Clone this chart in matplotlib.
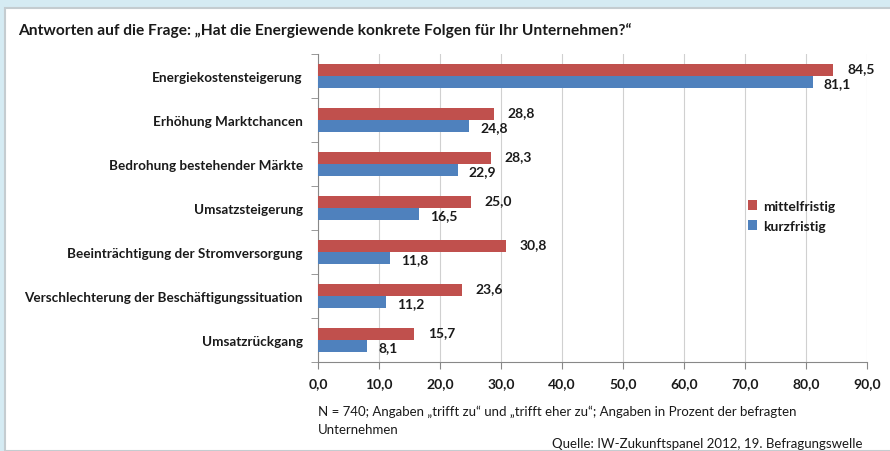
import numpy as np
import matplotlib.pyplot as plt
from matplotlib.patches import Rectangle

categories = ['Energiekostensteigerung', 'Erhöhung Marktchancen', 'Bedrohung bestehender Märkte',
              'Umsatzsteigerung', 'Beeinträchtigung der Stromversorgung',
              'Verschlechterung der Beschäftigungssituation', 'Umsatzrückgang']
mittelfristig = [84.5, 28.8, 28.3, 25.0, 30.8, 23.6, 15.7]
kurzfristig = [81.1, 24.8, 22.9, 16.5, 11.8, 11.2, 8.1]
xticks = [0, 10, 20, 30, 40, 50, 60, 70, 80, 90]

red = '#c0504d'
blue = '#4f81bd'
txt = '#1a1a1a'
plt.rcParams['font.family'] = ['Lato', 'DejaVu Sans']

fig = plt.figure(figsize=(8.9, 4.52), dpi=100)
fig.patch.set_facecolor('#d5ebf3')
# white panel with grey edge
fig.patches.append(Rectangle((5 / 890, 0), 1, 1 - 9 / 452, transform=fig.transFigure,
                             facecolor='white', edgecolor='#c4ccd0', linewidth=1.5, zorder=-10))

ax = fig.add_axes([318 / 890, 1 - 363 / 452, 549 / 890, 308 / 452])
ax.set_facecolor('none')
y = np.arange(len(categories))
h = 0.27
ax.barh(y - h / 2, mittelfristig, height=h, color=red, label='mittelfristig', zorder=3)
ax.barh(y + h / 2, kurzfristig, height=h, color=blue, label='kurzfristig', zorder=3)

for i in range(len(categories)):
    ax.annotate(f'{mittelfristig[i]:.1f}'.replace('.', ','), (mittelfristig[i], y[i] - h / 2 - 0.05),
                xytext=(10, 0), textcoords='offset points', va='center', ha='left',
                fontsize=10, fontweight='bold', color=txt)
    ax.annotate(f'{kurzfristig[i]:.1f}'.replace('.', ','), (kurzfristig[i], y[i] + h / 2 + 0.02),
                xytext=(8, 0), textcoords='offset points', va='center', ha='left',
                fontsize=10, fontweight='bold', color=txt)

ax.set_xlim(0, 90)
ax.set_ylim(len(categories) - 0.5, -0.5)
ax.set_xticks(xticks)
ax.set_xticklabels([f'{v:.1f}'.replace('.', ',') for v in xticks], fontsize=10,
                   fontweight='bold', color=txt)
ax.set_yticks(y)
ax.set_yticklabels(categories, fontsize=9.7, fontweight='bold', color=txt)
ax.set_yticks(np.arange(len(categories) + 1) - 0.5, minor=True)
ax.tick_params(axis='y', which='major', length=0, pad=11)
ax.tick_params(axis='y', which='minor', length=5, color='#888888', direction='out')
ax.tick_params(axis='x', length=5, color='#888888', direction='out', pad=6)
ax.grid(axis='x', color='#d0d0d0', linewidth=0.8, zorder=0)
for s in ['top', 'right']:
    ax.spines[s].set_visible(False)
for s in ['left', 'bottom']:
    ax.spines[s].set_color('#888888')

handles, labels = ax.get_legend_handles_labels()
leg = ax.legend(handles, labels, loc='center left', bbox_to_anchor=(0.76, 0.475), frameon=False,
                prop={'size': 10, 'weight': 'bold'}, handlelength=0.7, handleheight=0.7,
                handletextpad=0.4, labelspacing=0.6)
for t in leg.get_texts():
    t.set_color(txt)

fig.text(18 / 890, 1 - 31 / 452, 'Antworten auf die Frage: „Hat die Energiewende konkrete Folgen für Ihr Unternehmen?“',
         fontsize=11.2, fontweight='bold', color=txt, va='center')
fig.text(318 / 890, 1 - 412 / 452,
         'N = 740; Angaben „trifft zu“ und „trifft eher zu“; Angaben in Prozent der befragten',
         fontsize=9.5, color=txt, va='center')
fig.text(318 / 890, 1 - 430 / 452, 'Unternehmen', fontsize=9.5, color=txt, va='center')
fig.text(862 / 890, 1 - 444 / 452, 'Quelle: IW-Zukunftspanel 2012, 19. Befragungswelle',
         fontsize=9.5, color=txt, va='center', ha='right')

fig.savefig('out.png', dpi=100)
